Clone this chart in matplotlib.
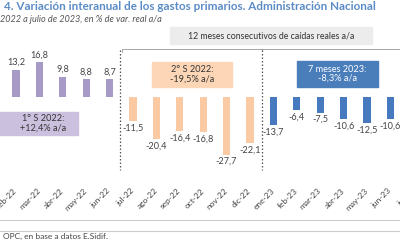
import matplotlib
matplotlib.use("Agg")
import matplotlib.pyplot as plt
from matplotlib.patches import Rectangle

plt.rcParams['font.family'] = ['Lato', 'DejaVu Sans']

# datos (var. real a/a, %)
meses = ["feb-22", "mar-22", "abr-22", "may-22", "jun-22",
         "jul-22", "ago-22", "sep-22", "oct-22", "nov-22", "dic-22",
         "ene-23", "feb-23", "mar-23", "abr-23", "may-23", "jun-23", "jul-23"]
s1_2022 = [13.2, 16.8, 9.8, 8.8, 8.7]
s2_2022 = [-11.5, -20.4, -16.4, -16.8, -27.7, -22.1]
m_2023 = [-13.7, -6.4, -7.5, -10.6, -12.5, -10.6]

col_s1 = "#a89ac6"
col_s2 = "#f9caa4"
col_23 = "#4679bd"

W, H = 400, 250
fig = plt.figure(figsize=(4, 2.5), dpi=100)
ax = fig.add_axes([0, 0, 1, 1])
ax.set_xlim(-16 / 23.4, 384 / 23.4)
ax.set_ylim((97 - 250) / 2.08, 97 / 2.08)
ax.axis('off')

def fx(px):
    return px / W

def fy(py):
    return 1 - py / H

# barras
grupos = [(s1_2022, col_s1, 0), (s2_2022, col_s2, 5), (m_2023, col_23, 11)]
for vals, col, i0 in grupos:
    xs = list(range(i0, i0 + len(vals)))
    ax.bar(xs, vals, width=0.3, color=col, zorder=2)
    for x, v in zip(xs, vals):
        txt = f"{v:.1f}".replace('.', ',')
        if v >= 0:
            ax.text(x, v + 1.2, txt, ha='center', va='bottom', fontsize=6.6, color='#444444')
        else:
            ax.text(x, v - 1.2, txt, ha='center', va='top', fontsize=6.6, color='#444444')

# etiquetas de meses
for i, m in enumerate(meses):
    ax.text(i + 0.1, -43.3, m, rotation=45, ha='right', va='top', fontsize=6,
            color='#444444', clip_on=False)

# lineas punteadas
for xv in [4.45, 10.5]:
    ax.plot([xv, xv], [22.6, -35], ls=(0, (1.2, 1.6)), color='#555555', lw=0.9, zorder=3)

# corchete superior
ax.plot([4.55, 4.55, 18], [21.5, 22.9, 22.9], color='#999999', lw=0.6, clip_on=False)
ax.plot([10.5, 10.5], [22.9, 22.3], color='#999999', lw=0.6)

# recuadros
fig.patches.append(Rectangle((fx(170), fy(44)), fx(372) - fx(170), fy(27) - fy(44),
                             transform=fig.transFigure, color='#ececec', zorder=1))
fig.text(fx(271), fy(36), "12 meses consecutivos de caídas reales a/a", ha='center', va='center',
         fontsize=6.3, color='#333333')

fig.patches.append(Rectangle((fx(-2), fy(135)), fx(78) - fx(-2), fy(112) - fy(135),
                             transform=fig.transFigure, color='#cbc1df', zorder=1))
fig.text(fx(43), fy(123.5), "1° S 2022:\n+12,4% a/a", ha='center', va='center',
         fontsize=6.6, color='#333333', linespacing=1.05)

fig.patches.append(Rectangle((fx(152), fy(87)), fx(232) - fx(152), fy(62) - fy(87),
                             transform=fig.transFigure, color='#fcd6b6', zorder=1))
fig.text(fx(192), fy(74.5), "2° S 2022:\n-19,5% a/a", ha='center', va='center',
         fontsize=6.6, color='#333333', linespacing=1.05)

fig.patches.append(Rectangle((fx(297), fy(87)), fx(378) - fx(297), fy(61) - fy(87),
                             transform=fig.transFigure, color='#4a7ebb', zorder=1))
fig.text(fx(337.5), fy(74), "7 meses 2023:\n-8,3% a/a", ha='center', va='center',
         fontsize=6.6, color='white', linespacing=1.05)

# titulos
fig.text(fx(4), fy(7), "4. Variación interanual de los gastos primarios. Administración Nacional",
         ha='left', va='center', fontsize=8.4, fontweight='bold', color='#5b8bc6')
fig.text(fx(0), fy(19), "2022 a julio de 2023, en % de var. real a/a",
         ha='left', va='center', fontsize=6.6, style='italic', color='#555555')

# lineas inferiores y fuente
for py in [220, 231]:
    fig.add_artist(plt.Line2D([0, 1], [fy(py), fy(py)], transform=fig.transFigure,
                              color='#cccccc', lw=0.8))
fig.text(fx(3), fy(236), "OPC, en base a datos E.Sidif.", ha='left', va='center',
         fontsize=6, color='#444444')

fig.savefig("out.png", dpi=100)
